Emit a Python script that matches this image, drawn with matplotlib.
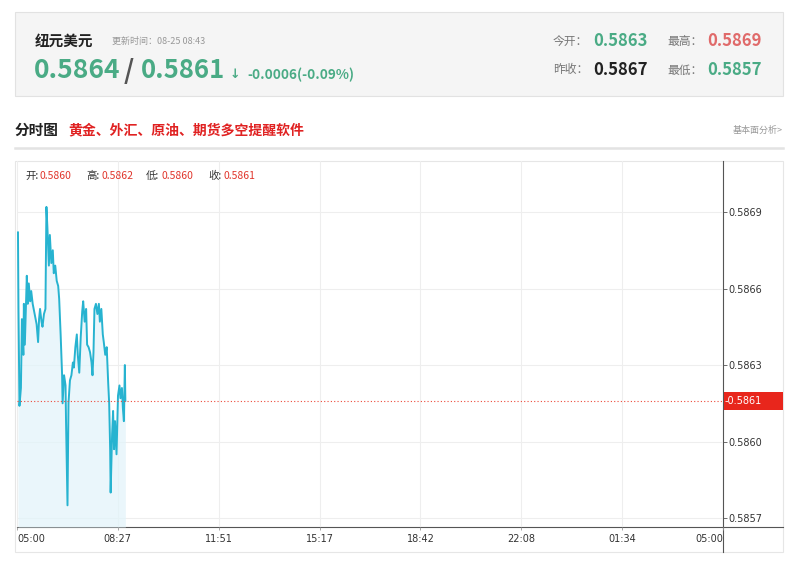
import matplotlib
matplotlib.use("Agg")
import matplotlib.pyplot as plt
from matplotlib.patches import Rectangle
from matplotlib.lines import Line2D

plt.rcParams["font.family"] = ["Noto Sans CJK SC", "DejaVu Sans"]

# minutes after 05:00 and price
minutes = [2, 3, 5, 8, 10, 13, 14, 16, 20, 22, 24, 27, 29, 32, 36, 40, 43, 45, 47, 50,
           52, 55, 58, 60, 62, 65, 67, 70, 73, 75, 78, 81, 84, 86, 89, 92, 93, 96, 99, 100,
           103, 105, 108, 111, 114, 116, 119, 122, 124, 127, 130, 133, 135, 138, 141, 143,
           146, 149, 152, 154, 156, 158, 161, 164, 167, 169, 172, 175, 177, 180, 183, 186,
           188, 190, 191, 194, 196, 198, 200, 203, 206, 209, 211, 214, 216, 218, 220, 221]
prices = [0.58679, 0.58649, 0.58611, 0.58618, 0.58645, 0.58631, 0.58651, 0.58635, 0.58662,
          0.58651, 0.58659, 0.58652, 0.58656, 0.58651, 0.58647, 0.58643, 0.58636, 0.58645,
          0.58649, 0.58644, 0.58642, 0.58647, 0.58649, 0.58689, 0.58681, 0.58666, 0.58678,
          0.58667, 0.58672, 0.58663, 0.58666, 0.58660, 0.58658, 0.58653, 0.58639, 0.58623,
          0.58612, 0.58623, 0.58619, 0.58605, 0.58572, 0.58612, 0.58621, 0.58623, 0.58628,
          0.58626, 0.58634, 0.58639, 0.58631, 0.58624, 0.58638, 0.58648, 0.58652, 0.58644,
          0.58649, 0.58635, 0.58634, 0.58632, 0.58628, 0.58623, 0.58632, 0.58649, 0.58651,
          0.58647, 0.58651, 0.58644, 0.58649, 0.58639, 0.58636, 0.58631, 0.58634, 0.58620,
          0.58612, 0.58594, 0.58577, 0.58600, 0.58609, 0.58594, 0.58605, 0.58592, 0.58615,
          0.58619, 0.58614, 0.58618, 0.58610, 0.58605, 0.58627, 0.58613]

y_ticks = [0.58567, 0.58597, 0.58627, 0.58657, 0.58687]
x_tick_labels = ["05:00", "08:27", "11:51", "15:17", "18:42", "22:08", "01:34", "05:00"]
last_price = 0.58613

GREEN = "#4aab85"
RED = "#e0352b"
W, H = 800, 573
Y0, Y1 = 0.585635, 0.58707


def px(x, y):
    return x / W, 1 - y / H


fig = plt.figure(figsize=(W / 100, H / 100), dpi=100)
fig.patch.set_facecolor("white")

# header box
fig.patches.append(Rectangle(px(15, 96), 768 / W, 84 / H, transform=fig.transFigure,
                             facecolor="#f5f5f5", edgecolor="#e2e2e2", lw=0.8, zorder=0))
fig.text(*px(35, 41), "纽元美元", fontsize=10.5, weight="bold", color="#222222", va="center")
fig.text(*px(112, 41), "更新时间：08-25 08:43", fontsize=6.5, color="#999999", va="center")
fig.text(*px(34, 71), "0.5864", fontsize=19, weight="bold", color=GREEN, va="center")
fig.text(*px(124, 71), "/", fontsize=19, weight="bold", color="#555555", va="center")
fig.text(*px(141, 71), "0.5861", fontsize=18.5, weight="bold", color=GREEN, va="center")
fig.text(*px(230, 75), "↓", fontsize=9, weight="bold", color=GREEN, va="center",
         family=["DejaVu Sans"])
fig.text(*px(247, 75), "-0.0006(-0.09%)", fontsize=9.8, weight="bold", color=GREEN, va="center")

fig.text(*px(553, 41), "今开：", fontsize=8.5, color="#777777", va="center")
fig.text(*px(593, 41), "0.5863", fontsize=12, weight="bold", color=GREEN, va="center")
fig.text(*px(667, 41), "最高：", fontsize=8.5, color="#777777", va="center")
fig.text(*px(707, 41), "0.5869", fontsize=12, weight="bold", color="#e06a6a", va="center")
fig.text(*px(553, 70), "昨收：", fontsize=8.5, color="#777777", va="center")
fig.text(*px(593, 70), "0.5867", fontsize=12, weight="bold", color="#222222", va="center")
fig.text(*px(667, 70), "最低：", fontsize=8.5, color="#777777", va="center")
fig.text(*px(707, 70), "0.5857", fontsize=12, weight="bold", color=GREEN, va="center")

# section title
fig.text(*px(15, 130), "分时图", fontsize=10.5, weight="bold", color="#222222", va="center")
fig.text(*px(68, 130), "黄金、外汇、原油、期货多空提醒软件", fontsize=10, weight="bold",
         color="#e02222", va="center")
fig.text(*px(783, 130), "基本面分析>", fontsize=6.5, color="#999999", va="center", ha="right")
fig.add_artist(Line2D([15 / W, 783 / W], [1 - 148 / H] * 2, transform=fig.transFigure,
                      color="#e3e3e3", lw=1.8))

# chart frame
fig.patches.append(Rectangle(px(15, 552), 768 / W, 391 / H, transform=fig.transFigure,
                             facecolor="white", edgecolor="#e6e6e6", lw=0.8, zorder=0))

ax = fig.add_axes([17 / W, 1 - 527 / H, 706 / W, 366 / H])
ax.set_zorder(2)
ax.set_facecolor("none")
ax.set_xlim(0, 1440)
ax.set_ylim(Y0, Y1)

ax.fill_between(minutes, prices, Y0, color="#e3f4fa", alpha=0.75, lw=0)
ax.plot(minutes, prices, color="#27b3d0", lw=1.4)
ax.axhline(last_price, color="#ec4a3a", lw=0.8, ls=(0, (1, 2)))

x_ticks = [i * 1440 / 7 for i in range(8)]
ax.set_xticks(x_ticks)
ax.set_xticklabels(x_tick_labels, fontsize=7, color="#333333", family=["DejaVu Sans"])
lbls = ax.get_xticklabels()
lbls[0].set_ha("left")
lbls[-1].set_ha("right")
ax.set_yticks(y_ticks)
ax.set_yticklabels([f"{v:.4f}" for v in y_ticks], fontsize=7, color="#333333",
                   family=["DejaVu Sans"])
ax.yaxis.tick_right()
ax.tick_params(axis="y", length=3, width=0.6, color="#555555", pad=1)
ax.tick_params(axis="x", length=2, width=0.6, color="#999999", pad=3)
ax.grid(True, color="#eeeeee", lw=0.8)
ax.set_axisbelow(True)
for s in ax.spines.values():
    s.set_visible(False)

# axis lines extending beyond plot area
fig.add_artist(Line2D([17 / W, 783 / W], [1 - 527 / H] * 2, transform=fig.transFigure,
                      color="#555555", lw=0.8))
fig.add_artist(Line2D([723 / W] * 2, [1 - 161 / H, 1 - 552 / H], transform=fig.transFigure,
                      color="#555555", lw=0.8))

# last price tag
tag_frac = 1 - (527 - 366 * (last_price - Y0) / (Y1 - Y0)) / H
fig.patches.append(Rectangle((724 / W, tag_frac - 9 / H), 59 / W, 18 / H,
                             transform=fig.transFigure, facecolor="#e8261c", lw=0, zorder=3))
fig.text(725 / W, tag_frac, "-0.5861", fontsize=7, color="white", va="center",
         family=["DejaVu Sans"], zorder=4)

# info line
info = [("开:", 25, "#333333"), ("0.5860", 40, RED), ("高:", 86, "#333333"), ("0.5862", 101, RED),
        ("低:", 146, "#333333"), ("0.5860", 161, RED), ("收:", 208, "#333333"), ("0.5861", 223, RED)]
for txt, x, c in info:
    fig.text(*px(x, 176), txt, fontsize=7.5, color=c, va="center")

fig.savefig("out.png", dpi=100)
